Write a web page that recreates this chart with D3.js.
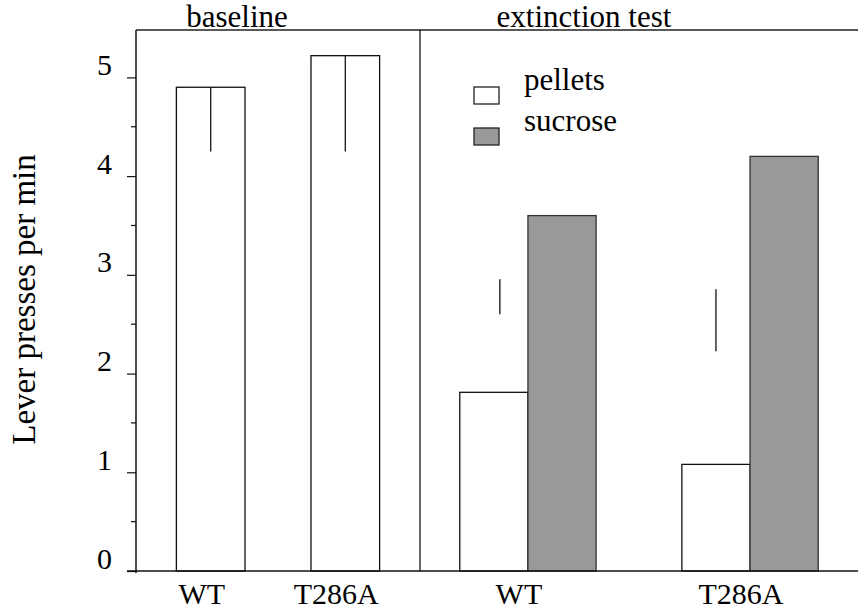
<!DOCTYPE html>
<html>
<head>
<meta charset="utf-8">
<script src="https://cdn.jsdelivr.net/npm/d3@7"></script>
<style>
	body { margin: 0; background: #fff; }
	svg text { font-family: 'Liberation Serif', 'Times New Roman', Times, serif; fill: #000; }
</style>
</head>
<body>
<div id="chart"></div>
<script>
// values
const groups = ['WT', 'T286A'];
const baselineMeans = [4.9, 5.22];
const baselineErrLow = [4.25, 4.25];
const series = ['pellets', 'sucrose'];
const pelletsMeans = [1.81, 1.08];
const sucroseMeans = [3.6, 4.2];
const extinctionErr = [
	[2.6, 2.955],
	[2.227, 2.854],
];
const yTicks = [0, 1, 2, 3, 4, 5];
const yMinorTicks = [0.5, 1.5, 2.5, 3.5, 4.5];
const panelTitles = ['baseline', 'extinction test'];
const yLabel = 'Lever presses per min';

const serif = "'Liberation Serif', 'Times New Roman', Times, serif";
const fills = { pellets: '#fff', sucrose: '#999' };
const strokes = { pellets: '#111', sucrose: '#333' };

// set the dimensions and margins of the graph
const margin = { top: 30, right: 0, bottom: 40, left: 136 },
	width = 858 - margin.left - margin.right,
	height = 611 - margin.top - margin.bottom;
const splitX = 284; // divider between the two panels

const svg = d3
	.select('#chart')
	.append('svg')
	.attr('width', width + margin.left + margin.right)
	.attr('height', height + margin.top + margin.bottom)
	.append('g')
	.attr('transform', `translate(${margin.left},${margin.top})`);

// Y axis
const y = d3.scaleLinear().domain([0, 5.48]).range([height, 0]);

const yAxis = svg.append('g').call(
	d3.axisLeft(y).tickValues(yTicks).tickSize(9).tickPadding(0).tickFormat(d3.format('d'))
);
yAxis.attr('font-family', null).attr('font-size', null);
yAxis.select('.domain').remove();
yAxis.selectAll('line').attr('stroke', '#111').attr('stroke-width', 1.2);
yAxis
	.selectAll('text')
	.attr('x', -24)
	.attr('dy', '-0.1em')
	.attr('text-anchor', 'end')
	.style('font-size', '30px')
	.style('font-family', serif);

svg.append('g')
	.selectAll('line')
	.data(yMinorTicks)
	.enter()
	.append('line')
	.attr('x1', -5)
	.attr('x2', 0)
	.attr('y1', (d) => y(d))
	.attr('y2', (d) => y(d))
	.attr('stroke', '#111')
	.attr('stroke-width', 1.2);

svg.append('text')
	.attr('transform', `translate(${35 - margin.left}, ${y(2.75)}) rotate(-90)`)
	.attr('text-anchor', 'middle')
	.style('font-size', '33px')
	.style('font-family', serif)
	.text(yLabel);

// X scales
const xBase = d3
	.scaleBand()
	.domain(groups)
	.range([0, splitX])
	.paddingInner(0.49)
	.paddingOuter(0.3);

const xExt = d3
	.scaleBand()
	.domain(groups)
	.range([splitX, width])
	.paddingInner(0.386)
	.paddingOuter(0.179);

const xSeries = d3.scaleBand().domain(series).range([0, xExt.bandwidth()]);

// baseline bars
const baseData = groups.map((g, i) => ({ group: g, value: baselineMeans[i], low: baselineErrLow[i] }));

svg.selectAll('.baseBar')
	.data(baseData)
	.enter()
	.append('rect')
	.attr('x', (d) => xBase(d.group))
	.attr('y', (d) => y(d.value))
	.attr('width', xBase.bandwidth())
	.attr('height', (d) => y(0) - y(d.value))
	.attr('fill', fills.pellets)
	.attr('stroke', strokes.pellets)
	.attr('stroke-width', 1.3);

svg.selectAll('.baseErr')
	.data(baseData)
	.enter()
	.append('line')
	.attr('x1', (d) => xBase(d.group) + xBase.bandwidth() / 2)
	.attr('x2', (d) => xBase(d.group) + xBase.bandwidth() / 2)
	.attr('y1', (d) => y(d.value))
	.attr('y2', (d) => y(d.low))
	.attr('stroke', '#111')
	.attr('stroke-width', 1.3);

// extinction bars
const extData = [];
groups.forEach((g, i) => {
	extData.push({ group: g, series: 'pellets', value: pelletsMeans[i] });
	extData.push({ group: g, series: 'sucrose', value: sucroseMeans[i] });
});

svg.selectAll('.extBar')
	.data(extData)
	.enter()
	.append('rect')
	.attr('x', (d) => xExt(d.group) + xSeries(d.series))
	.attr('y', (d) => y(d.value))
	.attr('width', xSeries.bandwidth())
	.attr('height', (d) => y(0) - y(d.value))
	.attr('fill', (d) => fills[d.series])
	.attr('stroke', (d) => strokes[d.series])
	.attr('stroke-width', 1.3);

// the extinction error bars float above the pellet bars in the source figure
svg.selectAll('.extErr')
	.data(groups)
	.enter()
	.append('line')
	.attr('x1', (d, i) => xExt(d) + xSeries('pellets') + xSeries.bandwidth() / 2 + (i === 0 ? 6 : 0))
	.attr('x2', (d, i) => xExt(d) + xSeries('pellets') + xSeries.bandwidth() / 2 + (i === 0 ? 6 : 0))
	.attr('y1', (d, i) => y(extinctionErr[i][1]))
	.attr('y2', (d, i) => y(extinctionErr[i][0]))
	.attr('stroke', '#111')
	.attr('stroke-width', 1.3);

// frame: axes, top line, divider
svg.append('line')
	.attr('x1', -9)
	.attr('x2', width)
	.attr('y1', height)
	.attr('y2', height)
	.attr('stroke', '#111')
	.attr('stroke-width', 1.5);
svg.append('line')
	.attr('x1', 0)
	.attr('x2', 0)
	.attr('y1', 0)
	.attr('y2', height + 2)
	.attr('stroke', '#111')
	.attr('stroke-width', 1.5);
svg.append('line')
	.attr('x1', 0)
	.attr('x2', width)
	.attr('y1', 0)
	.attr('y2', 0)
	.attr('stroke', '#222')
	.attr('stroke-width', 1.5);
svg.append('line')
	.attr('x1', splitX)
	.attr('x2', splitX)
	.attr('y1', 0)
	.attr('y2', height)
	.attr('stroke', '#111')
	.attr('stroke-width', 1.3);

// category labels
function addLabels(scale) {
	svg.selectAll(null)
		.data(groups)
		.enter()
		.append('text')
		.attr('x', (d) => scale(d) + scale.bandwidth() / 2 - 9)
		.attr('y', height + 33)
		.attr('text-anchor', 'middle')
		.style('font-size', '30px')
		.style('font-family', serif)
		.text((d) => d);
}
addLabels(xBase);
addLabels(xExt);

// panel titles
svg.selectAll('.title')
	.data(panelTitles)
	.enter()
	.append('text')
	.attr('x', (d, i) => (i === 0 ? splitX / 2 - 41 : (splitX + width) / 2 - 55))
	.attr('y', -3)
	.attr('text-anchor', 'middle')
	.style('font-size', '31px')
	.style('font-family', serif)
	.text((d) => d);

// legend
const legend = svg
	.selectAll('.legend')
	.data(series)
	.enter()
	.append('g')
	.attr('transform', (d, i) => `translate(${338}, ${57 + i * 41})`);
legend
	.append('rect')
	.attr('width', 25)
	.attr('height', 17)
	.attr('fill', (d) => fills[d])
	.attr('stroke', '#222')
	.attr('stroke-width', 1.3);
legend
	.append('text')
	.attr('x', 50)
	.attr('y', 3)
	.style('font-size', '31px')
	.style('font-family', serif)
	.text((d) => d);
</script>
</body>
</html>
